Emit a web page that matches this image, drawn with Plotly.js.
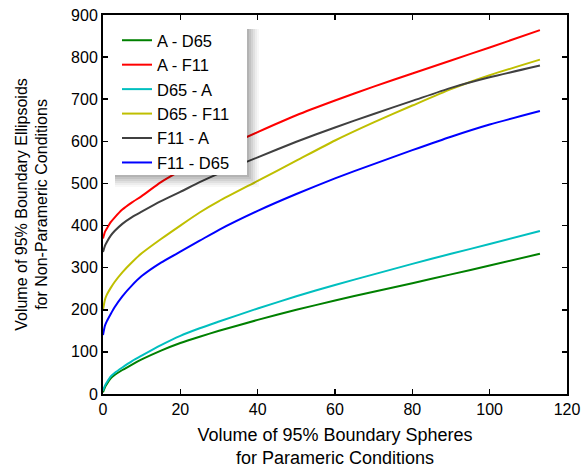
<!DOCTYPE html>
<html>
<head>
<meta charset="utf-8">
<script src="https://cdn.plot.ly/plotly-3.0.1.min.js"></script>
<style>
html, body { margin: 0; padding: 0; background: #fff; }
#chart { width: 586px; height: 468px; }
</style>
</head>
<body>
<div id="chart"></div>
<script>
// Sample positions along the x axis (Volume of 95% boundary spheres)
var xVals = [0, 0.5, 1, 2, 3, 5, 7.5, 10, 15, 20, 25, 30, 40, 50, 60, 70, 80, 90, 100, 113];

// Series values
var aD65  = [4, 16, 24, 37, 45, 57, 70, 82, 103, 121, 136, 150, 176, 200, 222, 243, 263, 284, 305, 333];
var aF11  = [369, 385, 393, 408, 419, 438, 455, 470, 503, 530, 556, 580, 622, 662, 697, 730, 761, 792, 823, 864];
var d65A  = [8, 20, 28, 42, 50, 63, 78, 91, 116, 138, 156, 172, 203, 232, 259, 284, 309, 333, 356, 387];
var d65F11 = [200, 224, 236, 252, 266, 289, 313, 334, 368, 400, 431, 458, 506, 554, 602, 645, 685, 724, 757, 794];
var f11A  = [337, 352, 361, 376, 387, 404, 420, 433, 458, 480, 503, 524, 562, 599, 633, 665, 696, 727, 752, 780];
var f11D65 = [140, 162, 173, 190, 206, 232, 258, 280, 312, 338, 364, 390, 435, 475, 512, 546, 579, 611, 640, 672];

var seriesNames = ['A - D65', 'A - F11', 'D65 - A', 'D65 - F11', 'F11 - A', 'F11 - D65'];
var seriesData = [aD65, aF11, d65A, d65F11, f11A, f11D65];
var seriesColors = ['#008000', '#ff0000', '#00bfbf', '#bfbf00', '#404040', '#0000ff'];

var xTicks = [0, 20, 40, 60, 80, 100, 120];
var yTicks = [0, 100, 200, 300, 400, 500, 600, 700, 800, 900];

var traces = seriesNames.map(function (name, i) {
  return {
    type: 'scatter',
    mode: 'lines',
    name: name,
    x: xVals,
    y: seriesData[i],
    line: { color: seriesColors[i], width: 2, shape: 'spline', smoothing: 0.6 },
    legendgroup: 'g' + i
  };
});

// plot-area geometry (pixels) for the legend box and its shadow
var L = 103, R = 567, T = 15, B = 394;
function px(xp) { return (xp - L) / (R - L); }
function py(yp) { return (B - yp) / (B - T); }

var boxL = 111, boxR = 247, boxT = 25, boxB = 175;
var shapes = [];
var shadowSteps = [
  { d: 12, o: 0.03 }, { d: 10, o: 0.04 }, { d: 8, o: 0.05 }, { d: 6, o: 0.06 }, { d: 4, o: 0.07 }, { d: 2, o: 0.08 }
];
shadowSteps.forEach(function (s) {
  shapes.push({
    type: 'rect', xref: 'paper', yref: 'paper', layer: 'above',
    x0: px(boxL + 4), x1: px(boxR + s.d),
    y0: py(boxB + s.d), y1: py(boxT + 4),
    fillcolor: '#000', opacity: s.o, line: { width: 0 }
  });
});
shapes.push({
  type: 'rect', xref: 'paper', yref: 'paper', layer: 'above',
  x0: px(boxL), x1: px(boxR), y0: py(boxB), y1: py(boxT),
  fillcolor: '#fff', opacity: 1, line: { width: 0 }
});

var fontFam = 'Liberation Sans, Arial, sans-serif';

var layout = {
  width: 586,
  height: 468,
  margin: { l: L, r: 586 - R, t: T, b: 468 - B },
  paper_bgcolor: '#fff',
  plot_bgcolor: '#fff',
  font: { family: fontFam, size: 16, color: '#000' },
  showlegend: true,
  legend: {
    x: px(117), y: py(23), xanchor: 'left', yanchor: 'top',
    bgcolor: 'rgba(0,0,0,0)', borderwidth: 0,
    font: { family: fontFam, size: 16.5, color: '#000' },
    tracegroupgap: 0,
    itemwidth: 30
  },
  xaxis: {
    range: [0, 120],
    tickvals: xTicks,
    ticktext: xTicks.map(String),
    ticks: 'inside', ticklen: 5, tickwidth: 1.5, tickcolor: '#000',
    showline: true, linecolor: '#000', linewidth: 2, mirror: 'ticks',
    showgrid: false, zeroline: false,
    tickfont: { family: fontFam, size: 16 },
    title: { text: 'Volume of 95% Boundary Spheres<br>for Parameric Conditions', font: { family: fontFam, size: 18 }, standoff: 12 }
  },
  yaxis: {
    range: [0, 900],
    tickvals: yTicks,
    ticktext: yTicks.map(String),
    ticks: 'inside', ticklen: 5, tickwidth: 1.5, tickcolor: '#000',
    showline: true, linecolor: '#000', linewidth: 2, mirror: 'ticks',
    showgrid: false, zeroline: false,
    tickfont: { family: fontFam, size: 16 },
    title: { text: 'Volume of 95% Boundary Ellipsoids<br>for Non-Parameric Conditions', font: { family: fontFam, size: 16 }, standoff: 19 }
  },
  shapes: shapes
};

Plotly.newPlot('chart', traces, layout, { displayModeBar: false, staticPlot: true });
</script>
</body>
</html>
